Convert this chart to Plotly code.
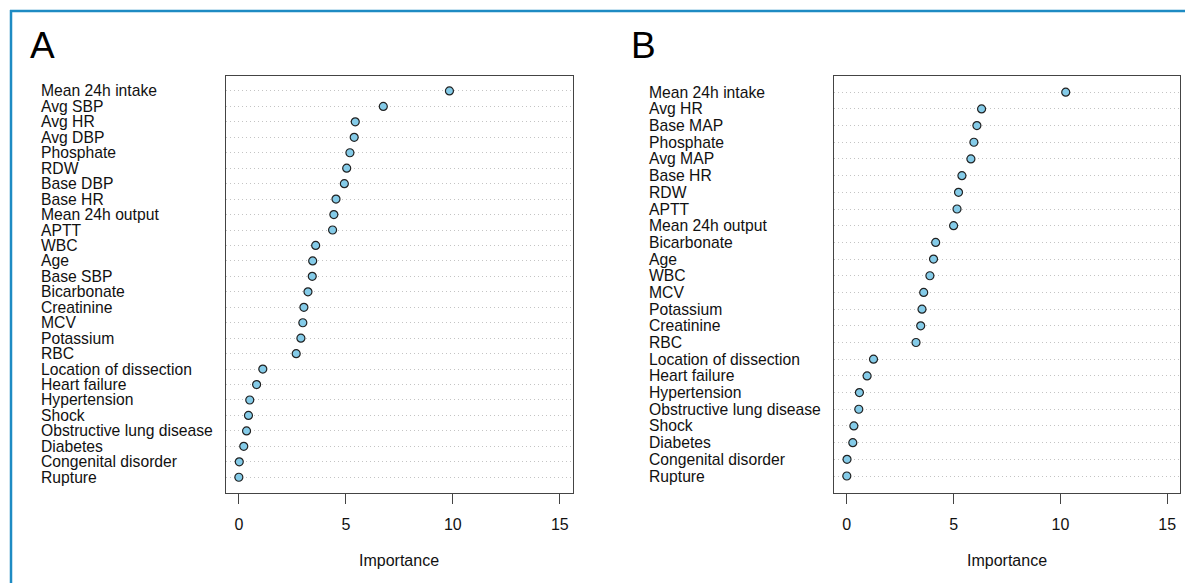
import plotly.graph_objects as go

W, H = 1185, 583

labels_a = ["Mean 24h intake", "Avg SBP", "Avg HR", "Avg DBP", "Phosphate", "RDW",
            "Base DBP", "Base HR", "Mean 24h output", "APTT", "WBC", "Age", "Base SBP",
            "Bicarbonate", "Creatinine", "MCV", "Potassium", "RBC", "Location of dissection",
            "Heart failure", "Hypertension", "Shock", "Obstructive lung disease", "Diabetes",
            "Congenital disorder", "Rupture"]
values_a = [9.84, 6.75, 5.44, 5.39, 5.19, 5.04, 4.93, 4.54, 4.44, 4.38, 3.59, 3.45, 3.43,
            3.23, 3.04, 2.99, 2.90, 2.68, 1.12, 0.83, 0.51, 0.45, 0.36, 0.23, 0.02, 0.00]

labels_b = ["Mean 24h intake", "Avg HR", "Base MAP", "Phosphate", "Avg MAP", "Base HR", "RDW",
            "APTT", "Mean 24h output", "Bicarbonate", "Age", "WBC", "MCV", "Potassium",
            "Creatinine", "RBC", "Location of dissection", "Heart failure", "Hypertension",
            "Obstructive lung disease", "Shock", "Diabetes", "Congenital disorder", "Rupture"]
values_b = [10.25, 6.31, 6.09, 5.95, 5.81, 5.39, 5.23, 5.16, 5.00, 4.16, 4.06, 3.89, 3.60,
            3.52, 3.46, 3.24, 1.25, 0.95, 0.59, 0.56, 0.33, 0.28, 0.01, 0.00]

panel_letters = ["A", "B"]
x_ticks = [0, 5, 10, 15]
x_title = "Importance"

FONT = "Liberation Sans, Arial, Helvetica, sans-serif"
FRAME = "#444444"
TEXT = "#111111"


def px_x(p):
    return p / W


def px_y(p):
    return 1 - p / H


panels = [
    dict(labels=labels_a, values=values_a, box=(226, 572.7), label_x=38.8, letter_x=28),
    dict(labels=labels_b, values=values_b, box=(834, 1180), label_x=646.8, letter_x=629),
]
box_top, box_bottom = 75.5, 492.7

fig = go.Figure()
annotations = []
layout_axes = {}

for k, p in enumerate(panels):
    sfx = "" if k == 0 else str(k + 1)
    labels, values = p["labels"], p["values"]
    n = len(labels)
    ys = [n - i for i in range(n)]
    fig.add_trace(go.Scatter(
        x=values, y=ys, mode="markers",
        xaxis="x" + sfx, yaxis="y" + sfx,
        marker=dict(symbol="circle", size=8, color="#84CBE8",
                    line=dict(color="#222222", width=1.2)),
        showlegend=False, hoverinfo="x+y",
    ))
    x0, x1 = p["box"]
    layout_axes["xaxis" + sfx] = dict(
        domain=[px_x(x0), px_x(x1)], anchor="y" + sfx,
        range=[-0.6, 15.6], tickvals=x_ticks, ticks="outside", ticklen=10,
        tickwidth=1.2, tickcolor=FRAME, showgrid=False, zeroline=False,
        showline=True, mirror=True, linecolor=FRAME, linewidth=1.3,
        tickfont=dict(size=16, color=TEXT, family=FONT), ticklabelstandoff=7,
    )
    layout_axes["yaxis" + sfx] = dict(
        domain=[px_y(box_bottom), px_y(box_top)], anchor="x" + sfx,
        range=[0, n + 1], tickvals=ys, showticklabels=False, ticks="",
        showgrid=True, gridcolor="#c4c4c4", griddash="1px,3px", gridwidth=1,
        zeroline=False, showline=True, mirror=True, linecolor=FRAME, linewidth=1.3,
    )
    for lab, yv in zip(labels, ys):
        annotations.append(dict(
            text=lab, x=px_x(p["label_x"]), xref="paper", xanchor="left",
            y=yv, yref="y" + sfx, yanchor="middle", showarrow=False,
            font=dict(size=15.7, color=TEXT, family=FONT),
        ))
    annotations.append(dict(
        text=panel_letters[k], x=px_x(p["letter_x"]), xref="paper", xanchor="left",
        y=px_y(45), yref="paper", yanchor="middle", showarrow=False,
        font=dict(size=37, color="#000000", family=FONT),
    ))
    annotations.append(dict(
        text=x_title, x=px_x((x0 + x1) / 2), xref="paper", xanchor="center",
        y=px_y(560), yref="paper", yanchor="middle", showarrow=False,
        font=dict(size=16, color=TEXT, family=FONT),
    ))

border_color = "#1E8BC3"
shapes = [
    dict(type="line", xref="paper", yref="paper", x0=px_x(11), x1=px_x(11),
         y0=0, y1=px_y(10), line=dict(color=border_color, width=2.5)),
    dict(type="line", xref="paper", yref="paper", x0=px_x(10), x1=1,
         y0=px_y(11), y1=px_y(11), line=dict(color=border_color, width=2.5)),
]

fig.update_layout(
    width=W, height=H,
    margin=dict(l=0, r=0, t=0, b=0),
    paper_bgcolor="white", plot_bgcolor="white",
    annotations=annotations, shapes=shapes,
    font=dict(family=FONT, color=TEXT),
    **layout_axes,
)

fig.write_html(
    "out.html",
    config={"displayModeBar": False},
    post_script="document.body.style.margin='0';document.body.style.overflow='hidden';",
)
